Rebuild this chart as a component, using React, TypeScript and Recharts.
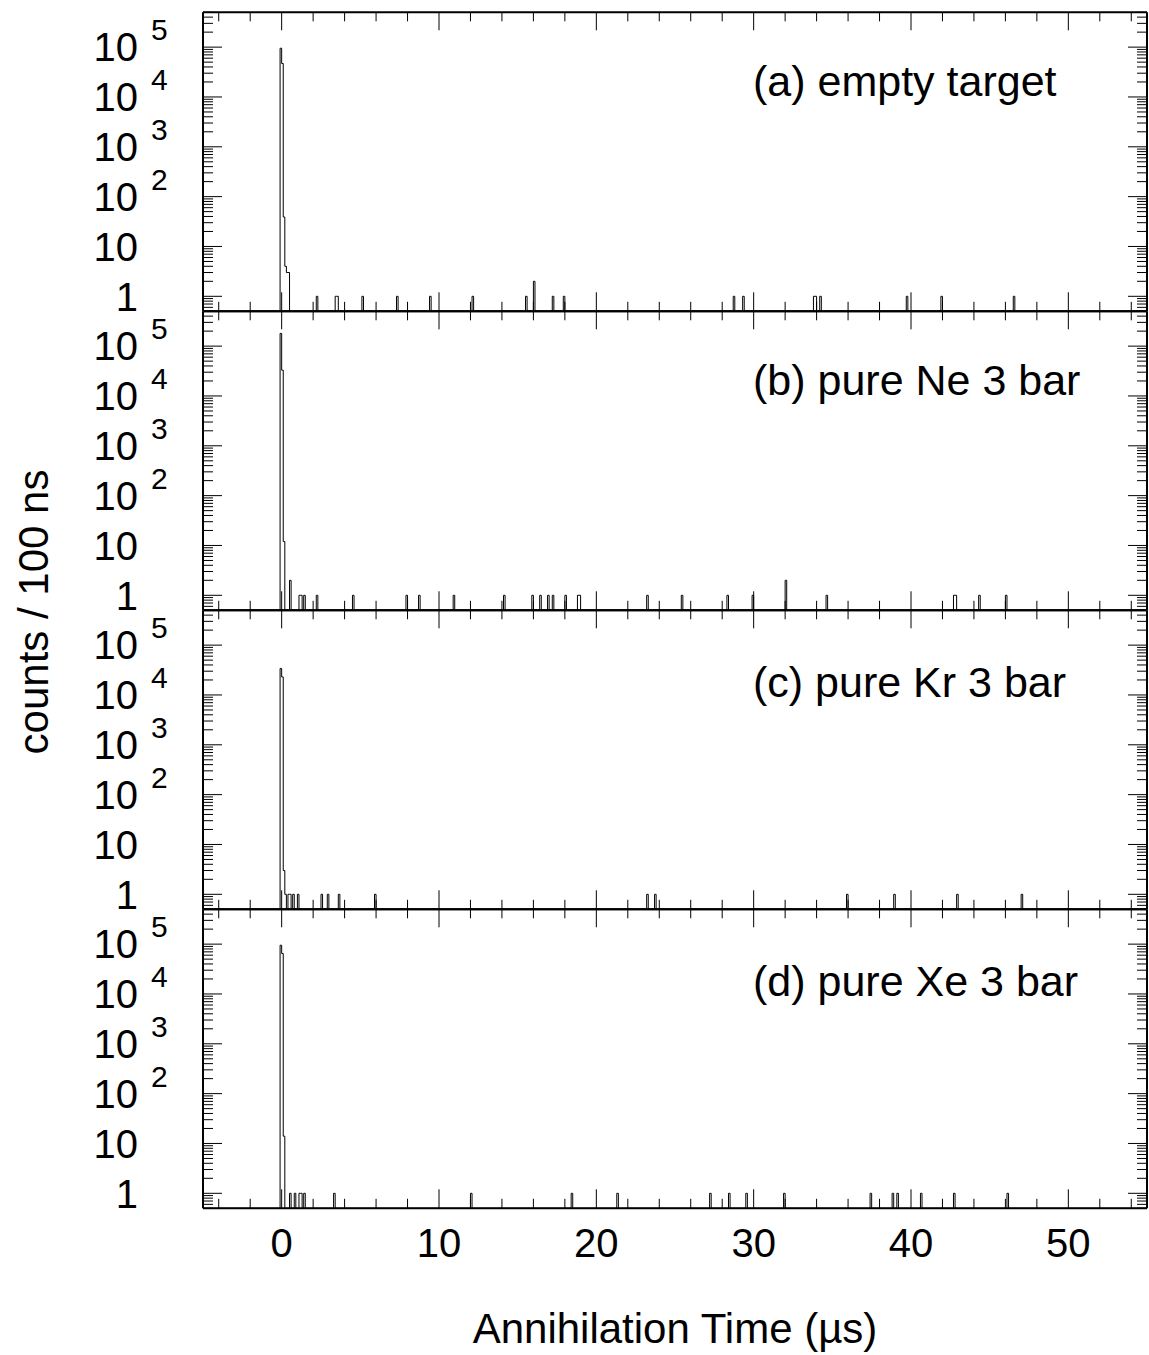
import React from 'react';
import { ComposedChart, Line, XAxis, YAxis } from 'recharts';

// ---------- data ----------
const X_DOMAIN = [-5, 55];
const Y_DOMAIN = [0.5, 500000];
const BIN_WIDTH = 0.1; // 100 ns

const X_TICKS = [-4, -2, 0, 2, 4, 6, 8, 10, 12, 14, 16, 18, 20, 22, 24, 26, 28, 30, 32, 34, 36, 38, 40, 42, 44, 46, 48, 50, 52, 54];
const X_MAJOR_TICKS = [0, 10, 20, 30, 40, 50];
const X_TICK_LABELS = ['0', '10', '20', '30', '40', '50'];

const Y_DECADES = [1, 10, 100, 1000, 10000, 100000];
const Y_DECADE_LABELS = [
  { base: '1', exp: '' },
  { base: '10', exp: '' },
  { base: '10', exp: '2' },
  { base: '10', exp: '3' },
  { base: '10', exp: '4' },
  { base: '10', exp: '5' },
];
const Y_MINOR_BELOW = [0.5, 0.6, 0.7, 0.8, 0.9];
const Y_MINOR_MULT = [2, 3, 4, 5, 6, 7, 8, 9];

// [bin start (µs), counts]
const HIST_A = [
  [-0.1, 95000], [0.0, 47000], [0.1, 39], [0.2, 4], [0.3, 3], [0.4, 3],
  [2.2, 1], [3.4, 1], [3.5, 1], [5.1, 1], [7.3, 1], [9.4, 1], [12.1, 1], [15.5, 1],
  [16.0, 2], [17.2, 1], [17.9, 1], [28.7, 1], [29.3, 1], [33.8, 1], [33.9, 1],
  [34.2, 1], [39.7, 1], [41.9, 1], [46.5, 1],
];
const HIST_B = [
  [-0.1, 180000], [0.0, 33000], [0.1, 12], [0.5, 2], [1.1, 1], [1.2, 1], [1.4, 1],
  [2.2, 1], [4.5, 1], [7.9, 1], [8.7, 1], [10.9, 1], [14.1, 1], [15.9, 1], [16.4, 1],
  [16.9, 1], [17.2, 1], [18.0, 1], [18.8, 1], [18.9, 1], [23.2, 1], [25.4, 1],
  [28.3, 1], [29.9, 1], [32.0, 2], [34.6, 1], [42.7, 1], [42.8, 1], [44.3, 1], [46.0, 1],
];
const HIST_C = [
  [-0.1, 34000], [0.0, 23000], [0.1, 3], [0.2, 1], [0.4, 1], [0.5, 1], [0.7, 1],
  [1.0, 1], [2.5, 1], [2.9, 1], [3.6, 1], [5.9, 1], [23.2, 1], [23.7, 1], [35.9, 1],
  [38.9, 1], [42.9, 1], [47.0, 1],
];
const HIST_D = [
  [-0.1, 95000], [0.0, 65000], [0.1, 14], [0.5, 1], [0.8, 1], [1.1, 1], [1.2, 1],
  [1.4, 1], [3.3, 1], [12.0, 1], [18.4, 1], [21.3, 1], [27.2, 1], [28.4, 1], [29.5, 1],
  [31.9, 1], [37.4, 1], [38.8, 1], [39.1, 1], [40.6, 1], [42.7, 1], [46.1, 1],
];

const PANEL_LABELS = ['(a) empty target', '(b) pure Ne 3 bar', '(c) pure Kr 3 bar', '(d) pure Xe 3 bar'];
const X_TITLE = 'Annihilation Time (\u00b5s)';
const Y_TITLE = 'counts / 100 ns';

// ---------- layout ----------
const W = 1149;
const H = 1355;
const PLOT_LEFT = 203;
const PLOT_RIGHT = 1147;
const PANEL_TOPS = [12.3, 311.3, 610.3, 909.3];
const PANEL_H = 299;
const FONT = '"Liberation Sans", Arial, Helvetica, sans-serif';

const Y_TICKS: number[] = [
  ...Y_MINOR_BELOW,
  ...Y_DECADES.flatMap((d) => [d, ...Y_MINOR_MULT.map((m) => m * d)]).filter((v) => v <= Y_DOMAIN[1]),
];

function buildSteps(hist: number[][]) {
  const floor = Y_DOMAIN[0];
  const pts: { x: number; y: number }[] = [{ x: X_DOMAIN[0], y: floor }];
  hist.forEach(([t, c], i) => {
    pts.push({ x: t, y: Math.max(c, floor) });
    const endIdx = Math.round((t + BIN_WIDTH) * 10);
    const next = hist[i + 1];
    if (!next || Math.round(next[0] * 10) !== endIdx) {
      pts.push({ x: endIdx / 10, y: floor });
    }
  });
  pts.push({ x: X_DOMAIN[1], y: floor });
  return pts;
}

const HISTS = [HIST_A, HIST_B, HIST_C, HIST_D];

function Panel({ idx }: { idx: number }) {
  const top = PANEL_TOPS[idx];
  const bottom = top + PANEL_H;
  const isLast = idx === HISTS.length - 1;
  const data = buildSteps(HISTS[idx]);

  const xTickBottom = (props: any) => {
    const { x, payload } = props;
    const v = payload.value;
    const major = X_MAJOR_TICKS.includes(v);
    const len = major ? 19 : 9.5;
    const li = X_MAJOR_TICKS.indexOf(v);
    return (
      <g>
        <line x1={x} x2={x} y1={bottom} y2={bottom - len} stroke="#000" strokeWidth={1} />
        {isLast && major ? (
          <text x={x} y={bottom + 49} textAnchor="middle" fontSize={40} fontFamily={FONT} fill="#000">
            {X_TICK_LABELS[li]}
          </text>
        ) : null}
      </g>
    );
  };
  const xTickTop = (props: any) => {
    const { x, payload } = props;
    const major = X_MAJOR_TICKS.includes(payload.value);
    const len = major ? 18 : 9;
    return <line x1={x} x2={x} y1={top} y2={top + len} stroke="#000" strokeWidth={1} />;
  };
  const yTickLeft = (props: any) => {
    const { y, payload } = props;
    const v = payload.value;
    const di = Y_DECADES.indexOf(v);
    const len = di >= 0 ? 19 : 10;
    const lab = di >= 0 ? Y_DECADE_LABELS[di] : null;
    return (
      <g>
        <line x1={PLOT_LEFT} x2={PLOT_LEFT + len} y1={y} y2={y} stroke="#000" strokeWidth={1} />
        {lab ? (
          <text x={138} y={y + 14.3} textAnchor="end" fontSize={40} fontFamily={FONT} fill="#000">
            {lab.base}
          </text>
        ) : null}
        {lab && lab.exp ? (
          <text x={151} y={y - 6.7} textAnchor="start" fontSize={30} fontFamily={FONT} fill="#000">
            {lab.exp}
          </text>
        ) : null}
      </g>
    );
  };
  const yTickRight = (props: any) => {
    const { y, payload } = props;
    const major = Y_DECADES.includes(payload.value);
    const len = major ? 19 : 10;
    return <line x1={PLOT_RIGHT} x2={PLOT_RIGHT - len} y1={y} y2={y} stroke="#000" strokeWidth={1} />;
  };

  return (
    <div style={{ position: 'absolute', left: 0, top: 0, width: W, height: H }}>
      <ComposedChart
        width={W}
        height={H}
        data={data}
        margin={{ top: top - 1, bottom: H - bottom - 1, left: PLOT_LEFT - 60, right: W - PLOT_RIGHT - 1 }}
      >
        <XAxis
          xAxisId="b"
          dataKey="x"
          type="number"
          domain={X_DOMAIN}
          ticks={X_TICKS}
          interval={0}
          orientation="bottom"
          height={1}
          allowDataOverflow
          tickLine={false}
          axisLine={{ stroke: '#000', strokeWidth: 2 }}
          tick={xTickBottom}
        />
        <XAxis
          xAxisId="t"
          dataKey="x"
          type="number"
          domain={X_DOMAIN}
          ticks={X_TICKS}
          interval={0}
          orientation="top"
          height={1}
          allowDataOverflow
          tickLine={false}
          axisLine={{ stroke: '#000', strokeWidth: 2 }}
          tick={xTickTop}
        />
        <YAxis
          yAxisId="l"
          type="number"
          scale="log"
          domain={Y_DOMAIN}
          ticks={Y_TICKS}
          interval={0}
          orientation="left"
          width={60}
          allowDataOverflow
          tickLine={false}
          axisLine={{ stroke: '#000', strokeWidth: 2 }}
          tick={yTickLeft}
        />
        <YAxis
          yAxisId="r"
          type="number"
          scale="log"
          domain={Y_DOMAIN}
          ticks={Y_TICKS}
          interval={0}
          orientation="right"
          width={1}
          allowDataOverflow
          tickLine={false}
          axisLine={{ stroke: '#000', strokeWidth: 2 }}
          tick={yTickRight}
        />
        <Line
          xAxisId="b"
          yAxisId="l"
          dataKey="y"
          type="stepAfter"
          stroke="#000"
          strokeWidth={1}
          dot={false}
          activeDot={false}
          isAnimationActive={false}
        />
      </ComposedChart>
    </div>
  );
}

export default function App() {
  return (
    <div style={{ position: 'absolute', left: 0, top: 0, width: W, height: H, background: '#fff' }}>
      {HISTS.map((_, i) => (
        <Panel key={i} idx={i} />
      ))}
      <svg
        width={W}
        height={H}
        style={{ position: 'absolute', left: 0, top: 0, pointerEvents: 'none' }}
      >
        {PANEL_LABELS.map((t, i) => (
          <text
            key={t}
            x={753}
            y={PANEL_TOPS[i] + (i < 2 ? 84 : 87)}
            fontSize={43}
            fontFamily={FONT}
            fill="#000"
          >
            {t}
          </text>
        ))}
        <text x={675} y={1343} textAnchor="middle" fontSize={42} fontFamily={FONT} fill="#000">
          {X_TITLE}
        </text>
        <text
          x={48}
          y={612}
          transform="rotate(-90 48 612)"
          textAnchor="middle"
          fontSize={42}
          fontFamily={FONT}
          fill="#000"
        >
          {Y_TITLE}
        </text>
      </svg>
    </div>
  );
}
